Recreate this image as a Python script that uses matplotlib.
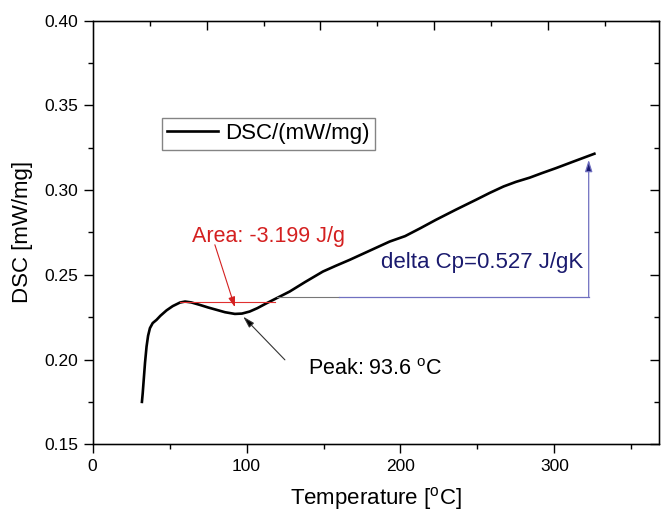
import matplotlib
matplotlib.use('Agg')
import matplotlib.pyplot as plt

plt.rcParams['font.family'] = ['Liberation Sans', 'DejaVu Sans']
plt.rcParams['mathtext.fontset'] = 'custom'
plt.rcParams['mathtext.rm'] = 'Liberation Sans'

# DSC curve
temp = [32, 32.5, 33, 34, 35, 36, 37.2, 39, 41.5, 44, 48, 52, 56.7, 60, 64, 69.7,
        75, 80.5, 86, 92.4, 97, 102, 107, 113, 120, 128, 138, 149.6, 158, 167,
        180, 193, 203, 213, 223, 236, 249, 258, 267, 275, 284, 292, 301, 313, 326]
dsc = [0.175, 0.180, 0.186, 0.198, 0.2076, 0.214, 0.2185, 0.2215, 0.2234, 0.2258,
       0.229, 0.2315, 0.2336, 0.2342, 0.2337, 0.2322, 0.2307, 0.2293, 0.2279,
       0.2269, 0.2271, 0.2283, 0.2303, 0.2332, 0.2364, 0.2401, 0.2457, 0.2519,
       0.2553, 0.2588, 0.2642, 0.2696, 0.2728, 0.2775, 0.2824, 0.2884, 0.2942,
       0.2983, 0.3021, 0.3048, 0.3073, 0.3100, 0.3129, 0.3170, 0.3214]

# annotation values
area_x = [56.7, 118.4]
area_y = 0.2342
base_x = [119.5, 322.3]
base_y = 0.2371
cp_top = 0.3178
peak_x, peak_y = 97.8, 0.2253

y_major = [0.15, 0.20, 0.25, 0.30, 0.35, 0.40]
y_minor = [0.175, 0.225, 0.275, 0.325, 0.375]

fig = plt.figure(figsize=(6.62, 5.13), dpi=100)
ax = fig.add_axes([0.140, 0.134, 0.8555, 0.826])

ax.plot(temp, dsc, color='black', lw=1.9, label='DSC/(mW/mg)')

# baseline + delta Cp arrow
ax.plot([base_x[0], 160], [base_y, base_y], color='#777777', lw=0.8)
ax.plot([160, base_x[1]], [base_y, base_y], color='#7070c0', lw=0.9)
ax.annotate('', xy=(base_x[1], cp_top), xytext=(base_x[1], base_y),
            arrowprops=dict(arrowstyle='-|>,head_width=0.22,head_length=0.7',
                            fc='#1a1a6e', ec='#7070c0', lw=0.9,
                            shrinkA=0, shrinkB=0))
ax.text(319, 0.257, 'delta Cp=0.527 J/gK', color='#1a1a6e', fontsize=16,
        ha='right', va='center')

# area line and arrow
ax.plot(area_x, [area_y, area_y], color='#e03030', lw=0.8)
ax.annotate('', xy=(92.4, 0.2309), xytext=(79.4, 0.2677),
            arrowprops=dict(arrowstyle='-|>,head_width=0.2,head_length=0.6',
                            fc='#d42020', ec='#d42020', lw=0.8,
                            shrinkA=0, shrinkB=0))
ax.text(114, 0.2724, 'Area: -3.199 J/g', color='#d42020', fontsize=15.5,
        ha='center', va='center')

# peak arrow
ax.annotate('', xy=(peak_x, peak_y), xytext=(124.9, 0.1998),
            arrowprops=dict(arrowstyle='-|>,head_width=0.2,head_length=0.7',
                            fc='black', ec='#333333', lw=0.8,
                            shrinkA=0, shrinkB=0))
ax.text(139.8, 0.1939, 'Peak: 93.6 $^\\mathregular{o}$C', color='black',
        fontsize=15.5, ha='left', va='center')

ax.set_xlim(0, 368)
ax.set_ylim(0.15, 0.40)
ax.set_xticks([0, 100, 200, 300])
ax.set_xticks([50, 150, 250, 350], minor=True)
ax.set_yticks(y_major)
ax.set_yticks(y_minor, minor=True)
ax.set_yticklabels(['%.2f' % v for v in y_major])
ax.tick_params(axis='both', which='major', direction='out', length=6.5,
               width=1.0, labelsize=12.5, pad=4)
ax.tick_params(axis='both', which='minor', direction='out', length=3.6, width=1.0)

ax.set_xlabel('Temperature [$^\\mathregular{o}$C]', fontsize=16, labelpad=8)
ax.set_ylabel('DSC [mW/mg]', fontsize=16, labelpad=8)
for s in ax.spines.values():
    s.set_linewidth(1.0)

# right side: same y ticks, pointing inward, no labels
rt = ax.twinx()
rt.set_ylim(0.15, 0.40)
rt.set_yticks(y_major)
rt.set_yticks(y_minor, minor=True)
rt.tick_params(axis='y', which='major', direction='in', length=6.5, width=1.0,
               labelright=False)
rt.tick_params(axis='y', which='minor', direction='in', length=3.6, width=1.0)

# top axis: unlabelled secondary scale, inward ticks
top = ax.twiny()
top.set_xlim(0, 368 / 74.0)
top.set_xticks([1, 2, 3, 4])
top.set_xticks([0.5, 1.5, 2.5, 3.5, 4.5], minor=True)
top.tick_params(axis='x', which='major', direction='in', length=6.5, width=1.0,
                labeltop=False)
top.tick_params(axis='x', which='minor', direction='in', length=3.5, width=1.0)

leg = ax.legend(loc='upper left', bbox_to_anchor=(0.122, 0.771), fontsize=16,
                frameon=True, fancybox=False, edgecolor='#666666',
                borderpad=0.25, handlelength=2.3, handletextpad=0.3,
                borderaxespad=0)
leg.get_frame().set_linewidth(1.0)

fig.savefig('out.png', dpi=100)
